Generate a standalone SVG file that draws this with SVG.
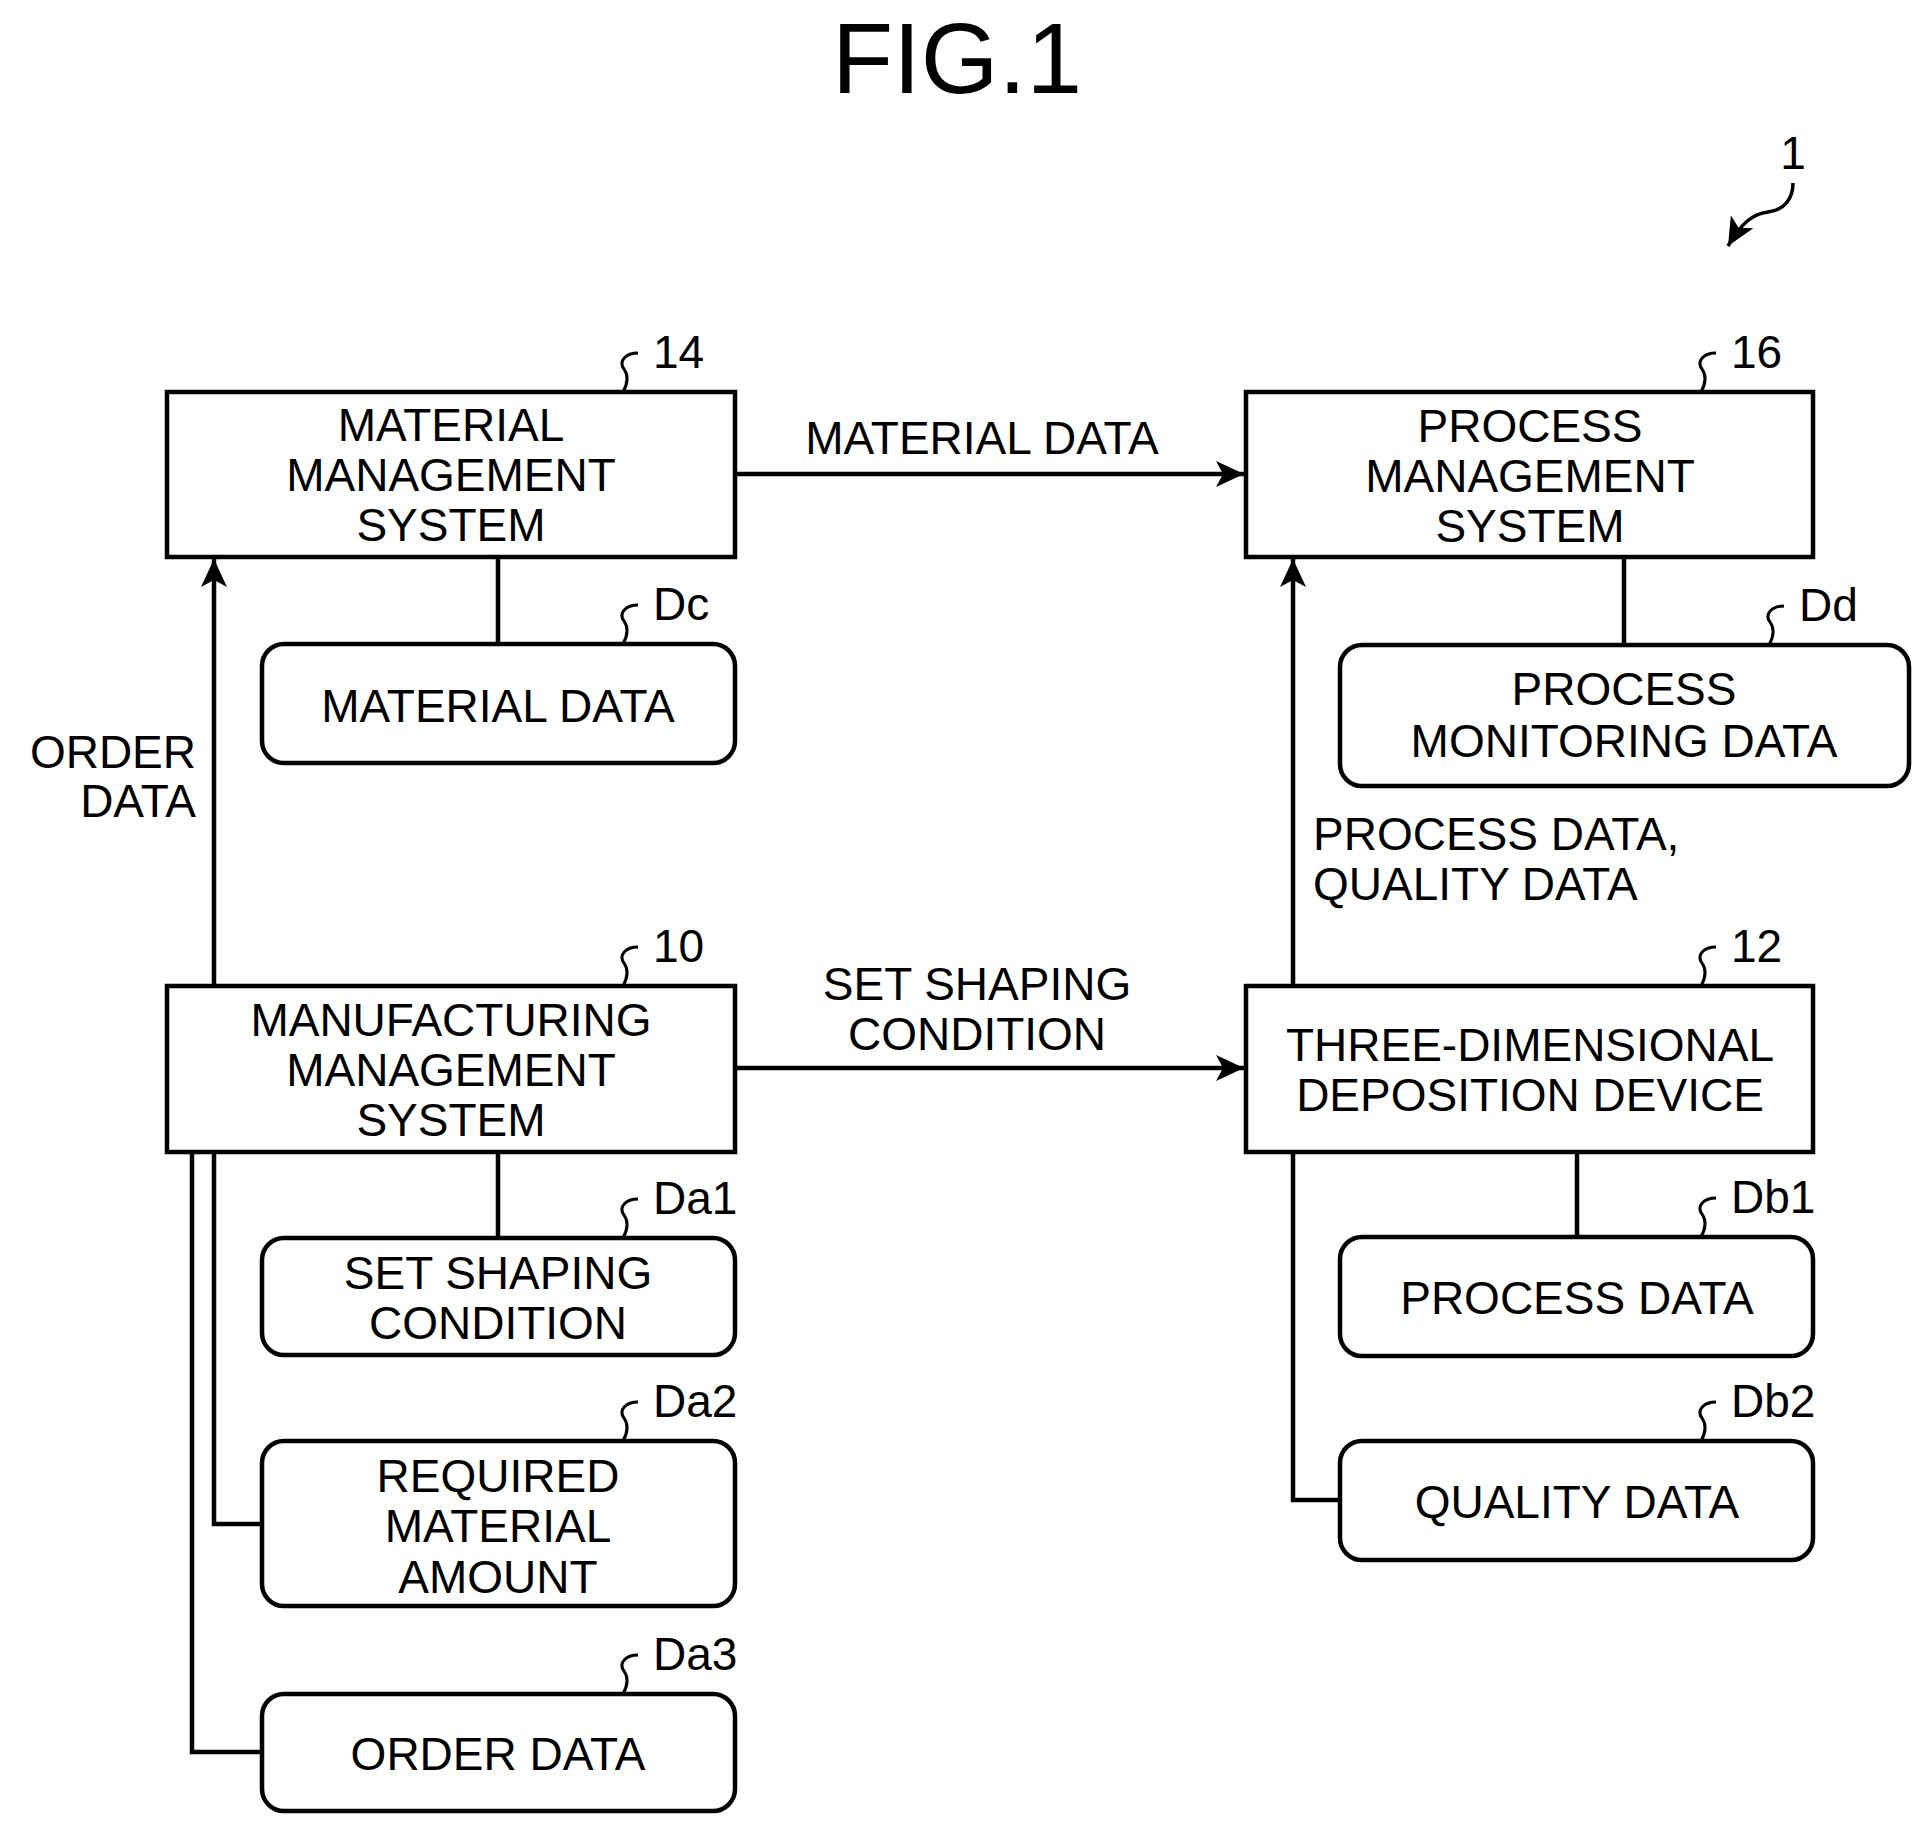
<svg xmlns="http://www.w3.org/2000/svg" width="1931" height="1834" viewBox="0 0 1931 1834">
<style>
text{font-family:"Liberation Sans",Arial,sans-serif;font-size:46px;fill:#000}
.c{text-anchor:middle}
.box{fill:#fff;stroke:#000;stroke-width:4.5}
.ln{fill:none;stroke:#000;stroke-width:4.5}
.sq{fill:none;stroke:#000;stroke-width:3}
</style>
<defs>
<marker id="ah" markerUnits="userSpaceOnUse" markerWidth="30" markerHeight="26" refX="28" refY="13" orient="auto"><path d="M0,0 L28,13 L0,26 L7,13 Z" fill="#000"/></marker>
</defs>
<text x="957" y="93" class="c" style="font-size:100px">FIG.1</text>
<text x="1793" y="169" class="c">1</text>
<path class="ln" style="stroke-width:3.5" d="M1793,183 c0,15 -8,27 -25,29 c-15,2 -26,10 -40,34" marker-end="url(#ah)"/>
<g id="connectors">
<line class="ln" x1="735" y1="474" x2="1244" y2="474" marker-end="url(#ah)"/>
<line class="ln" x1="214" y1="986" x2="214" y2="559" marker-end="url(#ah)"/>
<line class="ln" x1="1293" y1="986" x2="1293" y2="559" marker-end="url(#ah)"/>
<line class="ln" x1="735" y1="1068" x2="1244" y2="1068" marker-end="url(#ah)"/>
<line class="ln" x1="498" y1="557" x2="498" y2="644"/>
<line class="ln" x1="1624" y1="557" x2="1624" y2="645"/>
<line class="ln" x1="498" y1="1152" x2="498" y2="1238"/>
<polyline class="ln" points="214,1152 214,1524 262,1524"/>
<polyline class="ln" points="192,1152 192,1752 262,1752"/>
<line class="ln" x1="1577" y1="1152" x2="1577" y2="1237"/>
<polyline class="ln" points="1293,1152 1293,1500 1340,1500"/>
<text x="982" y="454" class="c">MATERIAL DATA</text>
<text x="196" y="768" text-anchor="end">ORDER</text>
<text x="196" y="817" text-anchor="end">DATA</text>
<text x="977" y="1000" class="c">SET SHAPING</text>
<text x="977" y="1050" class="c">CONDITION</text>
<text x="1313" y="850">PROCESS DATA,</text>
<text x="1313" y="900">QUALITY DATA</text>
</g>
<g id="n14"><rect class="box" x="167" y="392" width="568" height="165"/>
<text x="451" y="441" class="c">MATERIAL</text><text x="451" y="491" class="c">MANAGEMENT</text><text x="451" y="541" class="c">SYSTEM</text>
<path class="sq" d="M638,353 c-12,0 -20,8 -14,16 c5,7 4,14 -1,23"/><text x="653" y="368">14</text></g>
<g id="n16"><rect class="box" x="1246" y="392" width="567" height="165"/>
<text x="1530" y="442" class="c">PROCESS</text><text x="1530" y="492" class="c">MANAGEMENT</text><text x="1530" y="542" class="c">SYSTEM</text>
<path class="sq" d="M1716,353 c-12,0 -20,8 -14,16 c5,7 4,14 -1,23"/><text x="1731" y="368">16</text></g>
<g id="n10"><rect class="box" x="167" y="986" width="568" height="166"/>
<text x="451" y="1036" class="c">MANUFACTURING</text><text x="451" y="1086" class="c">MANAGEMENT</text><text x="451" y="1136" class="c">SYSTEM</text>
<path class="sq" d="M638,947 c-12,0 -20,8 -14,16 c5,7 4,14 -1,23"/><text x="653" y="962">10</text></g>
<g id="n12"><rect class="box" x="1246" y="986" width="567" height="166"/>
<text x="1530" y="1061" class="c">THREE-DIMENSIONAL</text><text x="1530" y="1111" class="c">DEPOSITION DEVICE</text>
<path class="sq" d="M1716,947 c-12,0 -20,8 -14,16 c5,7 4,14 -1,23"/><text x="1731" y="962">12</text></g>
<g id="nDc"><rect class="box" x="262" y="644" width="473" height="119" rx="22"/>
<text x="498" y="722" class="c">MATERIAL DATA</text>
<path class="sq" d="M638,605 c-12,0 -20,8 -14,16 c5,7 4,14 -1,23"/><text x="653" y="620">Dc</text></g>
<g id="nDd"><rect class="box" x="1340" y="645" width="569" height="141" rx="22"/>
<text x="1624" y="705" class="c">PROCESS</text><text x="1624" y="757" class="c">MONITORING DATA</text>
<path class="sq" d="M1784,606 c-12,0 -20,8 -14,16 c5,7 4,14 -1,23"/><text x="1799" y="621">Dd</text></g>
<g id="nDa1"><rect class="box" x="262" y="1238" width="473" height="117" rx="22"/>
<text x="498" y="1289" class="c">SET SHAPING</text><text x="498" y="1339" class="c">CONDITION</text>
<path class="sq" d="M638,1199 c-12,0 -20,8 -14,16 c5,7 4,14 -1,23"/><text x="653" y="1214">Da1</text></g>
<g id="nDa2"><rect class="box" x="262" y="1441" width="473" height="165" rx="22"/>
<text x="498" y="1492" class="c">REQUIRED</text><text x="498" y="1542" class="c">MATERIAL</text><text x="498" y="1593" class="c">AMOUNT</text>
<path class="sq" d="M638,1402 c-12,0 -20,8 -14,16 c5,7 4,14 -1,23"/><text x="653" y="1417">Da2</text></g>
<g id="nDa3"><rect class="box" x="262" y="1694" width="473" height="117" rx="22"/>
<text x="498" y="1770" class="c">ORDER DATA</text>
<path class="sq" d="M638,1655 c-12,0 -20,8 -14,16 c5,7 4,14 -1,23"/><text x="653" y="1670">Da3</text></g>
<g id="nDb1"><rect class="box" x="1340" y="1237" width="473" height="119" rx="22"/>
<text x="1577" y="1314" class="c">PROCESS DATA</text>
<path class="sq" d="M1716,1198 c-12,0 -20,8 -14,16 c5,7 4,14 -1,23"/><text x="1731" y="1213">Db1</text></g>
<g id="nDb2"><rect class="box" x="1340" y="1441" width="473" height="119" rx="22"/>
<text x="1577" y="1518" class="c">QUALITY DATA</text>
<path class="sq" d="M1716,1402 c-12,0 -20,8 -14,16 c5,7 4,14 -1,23"/><text x="1731" y="1417">Db2</text></g>
</svg>
